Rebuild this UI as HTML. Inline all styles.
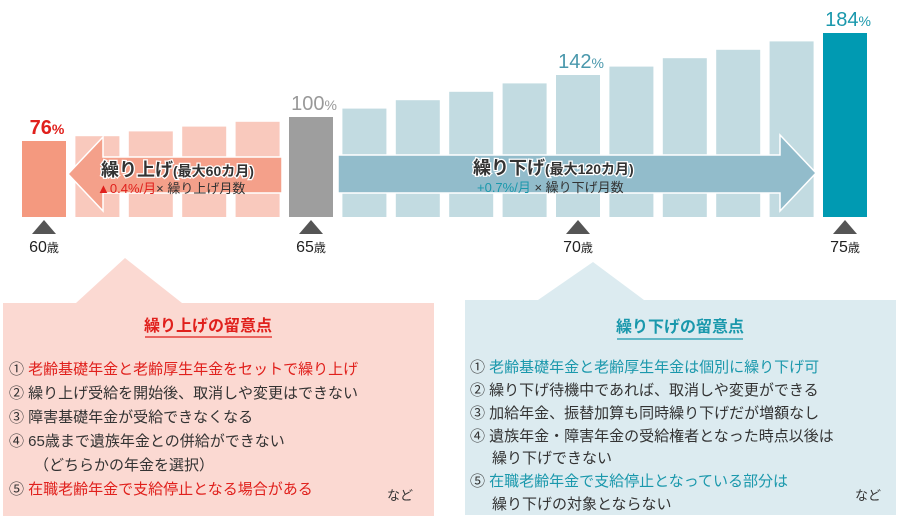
<!DOCTYPE html>
<html><head><meta charset="utf-8">
<style>
html,body{margin:0;padding:0;background:#fff;}
svg{display:block;font-family:"Liberation Sans","Noto Sans CJK JP",sans-serif;}
</style></head>
<body>
<svg id="chart" width="900" height="530" viewBox="0 0 900 530">
<g id="bars"></g>
<g id="arrows">
  <polygon points="282,157 103,157 103,137 68,174 103,211 103,193 282,193" fill="#f4a08a" stroke="#fff" stroke-width="1.5"/>
  <text x="101" y="176" font-size="18" font-weight="bold" fill="#333" stroke="#fff" stroke-width="2.5" paint-order="stroke">繰り上げ<tspan font-size="14">(最大60カ月)</tspan></text>
  <text x="97" y="193" font-size="13" fill="#333"><tspan fill="#e0201c">▲0.4%/月</tspan>× 繰り上げ月数</text>
  <polygon points="338,155 780,155 780,135 816,173 780,211 780,193 338,193" fill="#92bccb" stroke="#fff" stroke-width="1.5"/>
  <text x="473" y="174" font-size="18" font-weight="bold" fill="#333" stroke="#fff" stroke-width="2.5" paint-order="stroke">繰り下げ<tspan font-size="14">(最大120カ月)</tspan></text>
  <text x="477" y="192" font-size="13" fill="#333"><tspan fill="#1a98ac">+0.7%/月</tspan> × 繰り下げ月数</text>
</g>
<g id="markers"></g>

<g>
  <polygon points="3,303 76,303 125,258 182,303 434,303 434,516 3,516" fill="#fbd9d2"/>
  <text x="208" y="331" font-size="16" font-weight="bold" fill="#e0201c" text-anchor="middle">繰り上げの留意点</text>
  <line x1="145" y1="337" x2="272" y2="337" stroke="#e0201c" stroke-width="1.2"/>
  <g font-size="15" fill="#333">
    <text x="9" y="374">① <tspan fill="#e0201c">老齢基礎年金と老齢厚生年金をセットで繰り上げ</tspan></text>
    <text x="9" y="398">② 繰り上げ受給を開始後、取消しや変更はできない</text>
    <text x="9" y="422">③ 障害基礎年金が受給できなくなる</text>
    <text x="9" y="446">④ 65歳まで遺族年金との併給ができない</text>
    <text x="34" y="470">（どちらかの年金を選択）</text>
    <text x="9" y="494">⑤ <tspan fill="#e0201c">在職老齢年金で支給停止となる場合がある</tspan></text>
    <text x="387" y="500" font-size="13">など</text>
  </g>
</g>

<g>
  <polygon points="465,300 538,300 593,262 644,300 896,300 896,515 465,515" fill="#dcebf0"/>
  <text x="680" y="332" font-size="16" font-weight="bold" fill="#1a98ac" text-anchor="middle">繰り下げの留意点</text>
  <line x1="617" y1="339" x2="743" y2="339" stroke="#1a98ac" stroke-width="1.2"/>
  <g font-size="15" fill="#333">
    <text x="470" y="372">① <tspan fill="#1a98ac">老齢基礎年金と老齢厚生年金は個別に繰り下げ可</tspan></text>
    <text x="470" y="395">② 繰り下げ待機中であれば、取消しや変更ができる</text>
    <text x="470" y="418">③ 加給年金、振替加算も同時繰り下げだが増額なし</text>
    <text x="470" y="441">④ 遺族年金・障害年金の受給権者となった時点以後は</text>
    <text x="492" y="463">繰り下げできない</text>
    <text x="470" y="486">⑤ <tspan fill="#1a98ac">在職老齢年金で支給停止となっている部分は</tspan></text>
    <text x="492" y="509">繰り下げの対象とならない</text>
    <text x="855" y="500" font-size="13">など</text>
  </g>
</g>
</svg>
<script>
const ages = [60,61,62,63,64,65,66,67,68,69,70,71,72,73,74,75];
const rates = [76,80.8,85.6,90.4,95.2,100,108.4,116.8,125.2,133.6,142,150.4,158.8,167.2,175.6,184];
const labeledAges = [60,65,70,75];
const markerAges = [60,65,70,75];

const NS = "http://www.w3.org/2000/svg";
const baseY = 217, x0 = 22, step = 53.4, bw = 44, pxPerPct = 1;
function xScale(i){ return x0 + i*step; }
function yScale(v){ return baseY - v*pxPerPct; }
function colorFor(a){
  if(a===60) return "#f4997f";
  if(a<65) return "#f9c9bd";
  if(a===65) return "#9e9e9e";
  if(a===75) return "#009ab2";
  return "#c2dbe1";
}
function labelColor(a){
  if(a<65) return "#e0201c";
  if(a===65) return "#999";
  if(a===75) return "#1a98ac";
  return "#4a98ac";
}
const gb = document.getElementById('bars');
ages.forEach((a,i)=>{
  const r = document.createElementNS(NS,'rect');
  
  
  r.setAttribute('x', xScale(i));
  r.setAttribute('y', yScale(rates[i]));
  r.setAttribute('width', bw);
  r.setAttribute('height', baseY - yScale(rates[i]));
  r.setAttribute('fill', colorFor(a));
  gb.appendChild(r);
  if(labeledAges.includes(a)){
    const t = document.createElementNS(NS,'text');
    
    
    t.setAttribute('x', xScale(i)+bw/2+3);
    t.setAttribute('y', yScale(rates[i])-7);
    t.setAttribute('text-anchor','middle');
    t.setAttribute('font-size','20');
    t.setAttribute('font-weight', a===60 ? 'bold':'normal');
    t.setAttribute('fill', labelColor(a));
    t.innerHTML = Math.round(rates[i]) + '<tspan font-size="14">%</tspan>';
    gb.appendChild(t);
  }
});
const gm = document.getElementById('markers');
markerAges.forEach(a=>{
  const i = ages.indexOf(a);
  const cx = xScale(i)+bw/2;
  const p = document.createElementNS(NS,'polygon');
  
  
  p.setAttribute('points', (cx-12)+','+(baseY+17)+' '+cx+','+(baseY+3)+' '+(cx+12)+','+(baseY+17));
  p.setAttribute('fill','#555');
  gm.appendChild(p);
  const t = document.createElementNS(NS,'text');
  
  
  t.setAttribute('x', cx);
  t.setAttribute('y', baseY+35);
  t.setAttribute('text-anchor','middle');
  t.setAttribute('font-size','16');
  t.setAttribute('fill','#222');
  t.innerHTML = a + '<tspan font-size="12">歳</tspan>';
  gm.appendChild(t);
});
</script>
</body></html>
